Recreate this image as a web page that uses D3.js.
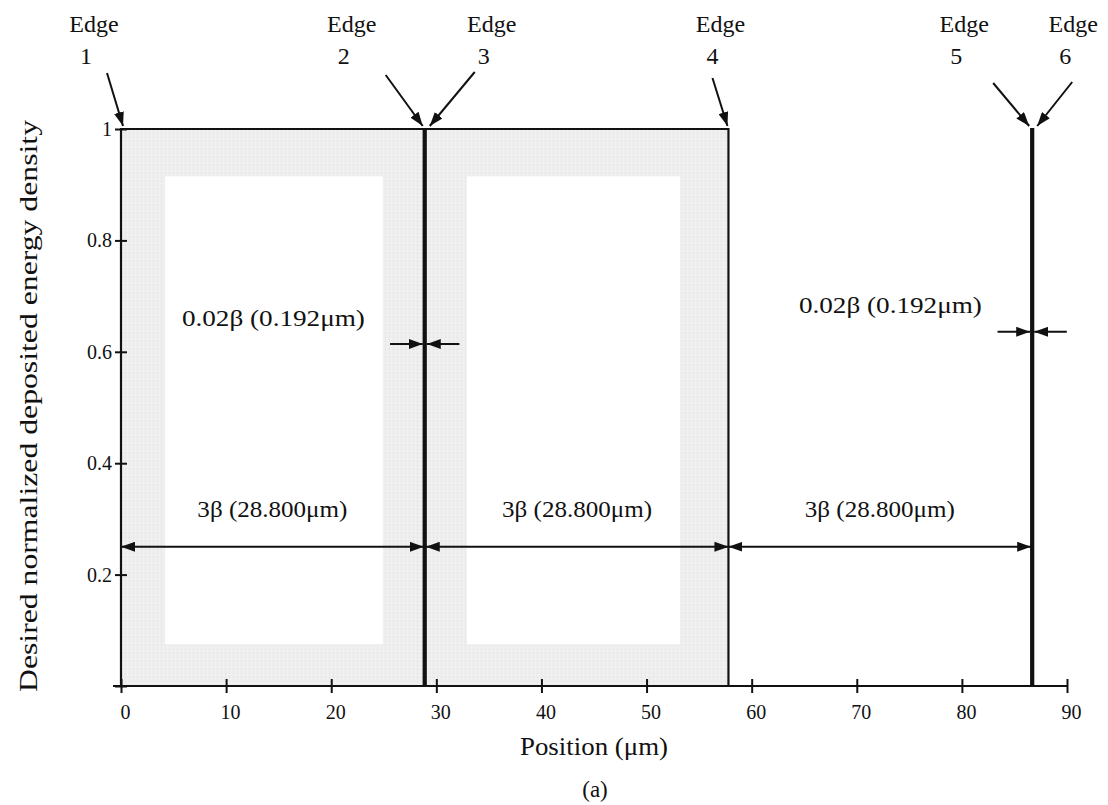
<!DOCTYPE html>
<html>
<head>
<meta charset="utf-8">
<script src="https://cdn.jsdelivr.net/npm/d3@7"></script>
<style>
body { margin: 0; background: #fff; }
text { font-family: "Liberation Serif", "Times New Roman", serif; fill: #111; }
</style>
</head>
<body>
<div id="chart"></div>
<script>
// desired step profile: position (um) and normalized deposited energy
var profileX = [0, 0, 28.8, 28.8, 28.992, 28.992, 57.792, 57.792, 86.592, 86.592, 86.784, 86.784, 90];
var profileY = [0, 1, 1, 0, 0, 1, 1, 0, 0, 1, 1, 0, 0];

// edges of the pattern
var edgeNames = ["1", "2", "3", "4", "5", "6"];
var edgePos = [0, 28.8, 28.992, 57.792, 86.592, 86.784];

var xTicks = [0, 10, 20, 30, 40, 50, 60, 70, 80, 90];
var yTicks = [0, 0.2, 0.4, 0.6, 0.8, 1];

// gray frames behind the two exposed features (outer and inner bounds)
var shadeStart = [0, 28.992];
var shadeEnd = [28.8, 57.792];
var shadeInnerStart = [4.2, 32.9];
var shadeInnerEnd = [24.9, 53.2];
var shadeInnerTop = [0.915, 0.915];
var shadeInnerBottom = [0.075, 0.075];

// 3 beta span callouts
var spanFrom = [0, 28.992, 57.792];
var spanTo = [28.8, 57.792, 86.592];
var spanLabels = ["3β (28.800μm)", "3β (28.800μm)", "3β (28.800μm)"];
var spanLevel = 0.25;
var spanLabelLevel = 0.318;

// 0.02 beta gap callouts
var gapLeft = [28.8, 86.592];
var gapRight = [28.992, 86.784];
var gapLevel = [0.614, 0.636];
var gapLabels = ["0.02β (0.192μm)", "0.02β (0.192μm)"];
var gapLabelX = [14.5, 73.2];
var gapLabelLevel = [0.661, 0.684];
var gapArrowLen = 3.2;

var W = 1108, H = 805;
var x = d3.scaleLinear().domain([0, 90]).range([121, 1067]);
var y = d3.scaleLinear().domain([0, 1]).range([686, 129]);

var svg = d3.select("#chart").append("svg")
    .attr("width", W)
    .attr("height", H);

var defs = svg.append("defs");
// arrow head
defs.append("marker")
    .attr("id", "head")
    .attr("markerUnits", "userSpaceOnUse")
    .attr("viewBox", "0 0 14 10")
    .attr("refX", 14)
    .attr("refY", 5)
    .attr("markerWidth", 14)
    .attr("markerHeight", 10)
    .attr("orient", "auto-start-reverse")
    .append("path")
    .attr("d", "M0,0L14,5L0,10Z")
    .attr("fill", "#111");

// speckled light gray like the scanned shading
var pat = defs.append("pattern")
    .attr("id", "speckle")
    .attr("patternUnits", "userSpaceOnUse")
    .attr("width", 4)
    .attr("height", 4);
pat.append("rect").attr("width", 4).attr("height", 4).attr("fill", "#eeeeee");
pat.append("rect").attr("x", 1).attr("y", 1).attr("width", 1).attr("height", 1).attr("fill", "#e0e0e0");
pat.append("rect").attr("x", 3).attr("y", 2).attr("width", 1).attr("height", 1).attr("fill", "#f6f6f6");

// shaded frames
var shade = svg.append("g");
shadeStart.forEach(function (s, i) {
    shade.append("rect")
        .attr("x", x(s))
        .attr("y", y(1))
        .attr("width", x(shadeEnd[i]) - x(s))
        .attr("height", y(0) - y(1))
        .attr("fill", "url(#speckle)");
    shade.append("rect")
        .attr("x", x(shadeInnerStart[i]))
        .attr("y", y(shadeInnerTop[i]))
        .attr("width", x(shadeInnerEnd[i]) - x(shadeInnerStart[i]))
        .attr("height", y(shadeInnerBottom[i]) - y(shadeInnerTop[i]))
        .attr("fill", "#fff");
});

// x axis with crossing ticks
var xAxis = svg.append("g")
    .attr("transform", "translate(0," + y(0) + ")")
    .call(d3.axisBottom(x).tickValues(xTicks).tickSize(7).tickPadding(12).tickFormat(d3.format("d")));
xAxis.select(".domain").remove();
xAxis.selectAll(".tick line").attr("y1", -7).attr("stroke", "#111").attr("stroke-width", 2);
xAxis.selectAll(".tick text").attr("dx", 4).style("font-size", "20px").style("font-family", "Liberation Serif");
xAxis.append("line")
    .attr("x1", x(0) - 8).attr("x2", x(90))
    .attr("stroke", "#111").attr("stroke-width", 2);

// y axis
var yAxis = svg.append("g")
    .attr("transform", "translate(" + x(0) + ",0)")
    .call(d3.axisLeft(y).tickValues(yTicks).tickSize(6).tickPadding(3)
        .tickFormat(function (d) { return d === 0 ? "" : (d === 1 ? "1" : d3.format(".1f")(d)); }));
yAxis.select(".domain").remove();
yAxis.selectAll(".tick line").attr("x1", 6).attr("stroke", "#111").attr("stroke-width", 2);
yAxis.selectAll(".tick text").style("font-size", "20px").style("font-family", "Liberation Serif");
yAxis.append("line")
    .attr("y1", y(0)).attr("y2", y(1))
    .attr("stroke", "#111").attr("stroke-width", 2);

// the profile itself
var line = d3.line()
    .x(function (d) { return x(d[0]); })
    .y(function (d) { return y(d[1]); });
svg.append("path")
    .datum(profileX.map(function (v, i) { return [v, profileY[i]]; }))
    .attr("d", line)
    .attr("fill", "none")
    .attr("stroke", "#111")
    .attr("stroke-width", 2.2);

// 3 beta span arrows
spanFrom.forEach(function (s, i) {
    svg.append("line")
        .attr("x1", x(s)).attr("x2", x(spanTo[i]))
        .attr("y1", y(spanLevel)).attr("y2", y(spanLevel))
        .attr("stroke", "#111").attr("stroke-width", 2)
        .attr("marker-start", "url(#head)")
        .attr("marker-end", "url(#head)");
    svg.append("text")
        .attr("x", (x(s) + x(spanTo[i])) / 2)
        .attr("y", y(spanLabelLevel))
        .attr("dy", "0.35em")
        .attr("text-anchor", "middle")
        .attr("textLength", 150)
        .attr("lengthAdjust", "spacingAndGlyphs")
        .style("font-size", "24px")
        .text(spanLabels[i]);
});

// 0.02 beta gap arrows
gapLeft.forEach(function (g, i) {
    var yy = y(gapLevel[i]);
    svg.append("line")
        .attr("x1", x(g - gapArrowLen)).attr("x2", x(g) - 1)
        .attr("y1", yy).attr("y2", yy)
        .attr("stroke", "#111").attr("stroke-width", 2)
        .attr("marker-end", "url(#head)");
    svg.append("line")
        .attr("x1", x(gapRight[i] + gapArrowLen)).attr("x2", x(gapRight[i]) + 1)
        .attr("y1", yy).attr("y2", yy)
        .attr("stroke", "#111").attr("stroke-width", 2)
        .attr("marker-end", "url(#head)");
    svg.append("text")
        .attr("x", x(gapLabelX[i]))
        .attr("y", y(gapLabelLevel[i]))
        .attr("dy", "0.35em")
        .attr("text-anchor", "middle")
        .attr("textLength", 183)
        .attr("lengthAdjust", "spacingAndGlyphs")
        .style("font-size", "24px")
        .text(gapLabels[i]);
});

// edge labels and pointer arrows (offsets in px from each edge)
var labelDx = [-27, -72, 66, -8, -67, 40];
var arrowDx = [-14, -38, 49, -16, -38, 39];
var arrowTipDx = [2, -1, 4, -1, -2, 4];
var arrowY0 = [73, 75, 72, 78, 83, 82];
edgePos.forEach(function (e, i) {
    var ex = x(e);
    svg.append("text")
        .attr("x", ex + labelDx[i]).attr("y", 32)
        .attr("text-anchor", "middle")
        .style("font-size", "24px")
        .text("Edge");
    svg.append("text")
        .attr("x", ex + labelDx[i] - 8).attr("y", 64)
        .attr("text-anchor", "middle")
        .style("font-size", "24px")
        .text(edgeNames[i]);
    svg.append("line")
        .attr("x1", ex + arrowDx[i]).attr("y1", arrowY0[i])
        .attr("x2", ex + arrowTipDx[i]).attr("y2", y(1) - 3)
        .attr("stroke", "#111").attr("stroke-width", 2)
        .attr("marker-end", "url(#head)");
});

// axis titles
svg.append("text")
    .attr("x", 594).attr("y", 755)
    .attr("text-anchor", "middle")
    .attr("textLength", 148)
    .attr("lengthAdjust", "spacingAndGlyphs")
    .style("font-size", "25px")
    .text("Position (μm)");
svg.append("text")
    .attr("x", 595).attr("y", 797)
    .attr("text-anchor", "middle")
    .style("font-size", "23px")
    .text("(a)");
svg.append("text")
    .attr("transform", "translate(37,406) rotate(-90)")
    .attr("text-anchor", "middle")
    .attr("textLength", 572)
    .attr("lengthAdjust", "spacingAndGlyphs")
    .style("font-size", "25px")
    .text("Desired normalized deposited energy density");
</script>
</body>
</html>
